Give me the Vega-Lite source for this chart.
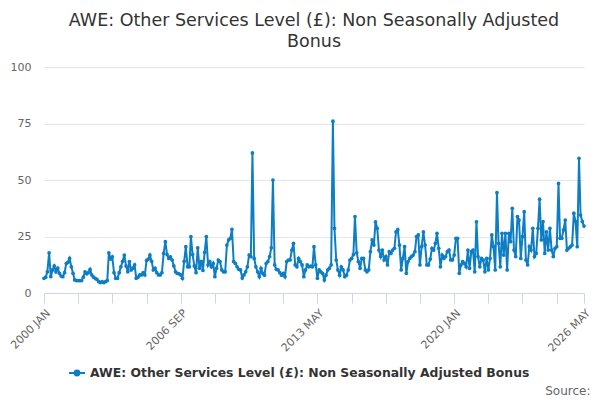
{
  "$schema": "https://vega.github.io/schema/vega-lite/v6.json",
  "width": 540,
  "height": 226,
  "autosize": {"type": "none"},
  "padding": {"left": 44, "top": 67, "right": 16, "bottom": 107},
  "background": "white",
  "title": {
    "text": ["AWE: Other Services Level (£): Non Seasonally Adjusted", "Bonus"],
    "font": "DejaVu Sans",
    "fontSize": 17.5,
    "fontWeight": "normal",
    "color": "#333333",
    "anchor": "middle",
    "lineHeight": 21,
    "offset": 11
  },
  "data": {
    "values": [
      {"date": "2000-01-01", "value": 6.5}, {"date": "2000-02-01", "value": 7}, {"date": "2000-03-01", "value": 9.4}, {"date": "2000-04-01", "value": 17.8}, {"date": "2000-05-01", "value": 7.2}, {"date": "2000-06-01", "value": 10.2}, {"date": "2000-07-01", "value": 12}, {"date": "2000-08-01", "value": 9.4}, {"date": "2000-09-01", "value": 11}, {"date": "2000-10-01", "value": 8.7}, {"date": "2000-11-01", "value": 7.5}, {"date": "2000-12-01", "value": 7.2},
      {"date": "2001-01-01", "value": 9}, {"date": "2001-02-01", "value": 13.1}, {"date": "2001-03-01", "value": 13.5}, {"date": "2001-04-01", "value": 15.3}, {"date": "2001-05-01", "value": 11.6}, {"date": "2001-06-01", "value": 8.7}, {"date": "2001-07-01", "value": 5.8}, {"date": "2001-08-01", "value": 5.5}, {"date": "2001-09-01", "value": 5.5}, {"date": "2001-10-01", "value": 5.5}, {"date": "2001-11-01", "value": 5.5}, {"date": "2001-12-01", "value": 7},
      {"date": "2002-01-01", "value": 9.4}, {"date": "2002-02-01", "value": 8.5}, {"date": "2002-03-01", "value": 9}, {"date": "2002-04-01", "value": 10.5}, {"date": "2002-05-01", "value": 8}, {"date": "2002-06-01", "value": 7}, {"date": "2002-07-01", "value": 6.5}, {"date": "2002-08-01", "value": 6}, {"date": "2002-09-01", "value": 5}, {"date": "2002-10-01", "value": 4.6}, {"date": "2002-11-01", "value": 5}, {"date": "2002-12-01", "value": 4.6},
      {"date": "2003-01-01", "value": 5}, {"date": "2003-02-01", "value": 5.5}, {"date": "2003-03-01", "value": 17.8}, {"date": "2003-04-01", "value": 15}, {"date": "2003-05-01", "value": 16}, {"date": "2003-06-01", "value": 9}, {"date": "2003-07-01", "value": 6.5}, {"date": "2003-08-01", "value": 6.5}, {"date": "2003-09-01", "value": 9}, {"date": "2003-10-01", "value": 11.6}, {"date": "2003-11-01", "value": 14}, {"date": "2003-12-01", "value": 16.8},
      {"date": "2004-01-01", "value": 12}, {"date": "2004-02-01", "value": 9.4}, {"date": "2004-03-01", "value": 13.9}, {"date": "2004-04-01", "value": 10.2}, {"date": "2004-05-01", "value": 11}, {"date": "2004-06-01", "value": 12.4}, {"date": "2004-07-01", "value": 6.5}, {"date": "2004-08-01", "value": 7}, {"date": "2004-09-01", "value": 8}, {"date": "2004-10-01", "value": 8}, {"date": "2004-11-01", "value": 9}, {"date": "2004-12-01", "value": 8},
      {"date": "2005-01-01", "value": 14.4}, {"date": "2005-02-01", "value": 15}, {"date": "2005-03-01", "value": 16.8}, {"date": "2005-04-01", "value": 14}, {"date": "2005-05-01", "value": 10.2}, {"date": "2005-06-01", "value": 11}, {"date": "2005-07-01", "value": 9}, {"date": "2005-08-01", "value": 8}, {"date": "2005-09-01", "value": 8}, {"date": "2005-10-01", "value": 9}, {"date": "2005-11-01", "value": 17.5}, {"date": "2005-12-01", "value": 22.7},
      {"date": "2006-01-01", "value": 17}, {"date": "2006-02-01", "value": 15.3}, {"date": "2006-03-01", "value": 16}, {"date": "2006-04-01", "value": 14.6}, {"date": "2006-05-01", "value": 12}, {"date": "2006-06-01", "value": 9.4}, {"date": "2006-07-01", "value": 8.7}, {"date": "2006-08-01", "value": 8.5}, {"date": "2006-09-01", "value": 8}, {"date": "2006-10-01", "value": 6.5}, {"date": "2006-11-01", "value": 14}, {"date": "2006-12-01", "value": 20.5},
      {"date": "2007-01-01", "value": 11.6}, {"date": "2007-02-01", "value": 11.6}, {"date": "2007-03-01", "value": 25}, {"date": "2007-04-01", "value": 17}, {"date": "2007-05-01", "value": 12}, {"date": "2007-06-01", "value": 9}, {"date": "2007-07-01", "value": 20}, {"date": "2007-08-01", "value": 11}, {"date": "2007-09-01", "value": 14}, {"date": "2007-10-01", "value": 10}, {"date": "2007-11-01", "value": 18}, {"date": "2007-12-01", "value": 25},
      {"date": "2008-01-01", "value": 12.4}, {"date": "2008-02-01", "value": 13.9}, {"date": "2008-03-01", "value": 11.6}, {"date": "2008-04-01", "value": 13.1}, {"date": "2008-05-01", "value": 7.2}, {"date": "2008-06-01", "value": 11}, {"date": "2008-07-01", "value": 14.6}, {"date": "2008-08-01", "value": 13.9}, {"date": "2008-09-01", "value": 10.2}, {"date": "2008-10-01", "value": 9.4}, {"date": "2008-11-01", "value": 9.4}, {"date": "2008-12-01", "value": 21.2},
      {"date": "2009-01-01", "value": 23.5}, {"date": "2009-02-01", "value": 24.2}, {"date": "2009-03-01", "value": 28.2}, {"date": "2009-04-01", "value": 13.9}, {"date": "2009-05-01", "value": 13.1}, {"date": "2009-06-01", "value": 11.6}, {"date": "2009-07-01", "value": 10.5}, {"date": "2009-08-01", "value": 10.2}, {"date": "2009-09-01", "value": 6.6}, {"date": "2009-10-01", "value": 8}, {"date": "2009-11-01", "value": 9.4}, {"date": "2009-12-01", "value": 11.6},
      {"date": "2010-01-01", "value": 16.8}, {"date": "2010-02-01", "value": 16.1}, {"date": "2010-03-01", "value": 62}, {"date": "2010-04-01", "value": 15.3}, {"date": "2010-05-01", "value": 11.6}, {"date": "2010-06-01", "value": 9.4}, {"date": "2010-07-01", "value": 7.2}, {"date": "2010-08-01", "value": 10.9}, {"date": "2010-09-01", "value": 8.7}, {"date": "2010-10-01", "value": 7.9}, {"date": "2010-11-01", "value": 13.1}, {"date": "2010-12-01", "value": 13.9},
      {"date": "2011-01-01", "value": 16.1}, {"date": "2011-02-01", "value": 20}, {"date": "2011-03-01", "value": 50}, {"date": "2011-04-01", "value": 12.4}, {"date": "2011-05-01", "value": 10.5}, {"date": "2011-06-01", "value": 10.2}, {"date": "2011-07-01", "value": 9}, {"date": "2011-08-01", "value": 7.9}, {"date": "2011-09-01", "value": 8.7}, {"date": "2011-10-01", "value": 7.2}, {"date": "2011-11-01", "value": 13.9}, {"date": "2011-12-01", "value": 14.6},
      {"date": "2012-01-01", "value": 14.6}, {"date": "2012-02-01", "value": 19}, {"date": "2012-03-01", "value": 22}, {"date": "2012-04-01", "value": 12.4}, {"date": "2012-05-01", "value": 11.6}, {"date": "2012-06-01", "value": 15.3}, {"date": "2012-07-01", "value": 13.9}, {"date": "2012-08-01", "value": 12.4}, {"date": "2012-09-01", "value": 7.2}, {"date": "2012-10-01", "value": 10.2}, {"date": "2012-11-01", "value": 12.4}, {"date": "2012-12-01", "value": 11.6},
      {"date": "2013-01-01", "value": 11.9}, {"date": "2013-02-01", "value": 11.6}, {"date": "2013-03-01", "value": 20.5}, {"date": "2013-04-01", "value": 12.4}, {"date": "2013-05-01", "value": 6.5}, {"date": "2013-06-01", "value": 10.2}, {"date": "2013-07-01", "value": 9.4}, {"date": "2013-08-01", "value": 8.7}, {"date": "2013-09-01", "value": 5.7}, {"date": "2013-10-01", "value": 7.9}, {"date": "2013-11-01", "value": 10.2}, {"date": "2013-12-01", "value": 11},
      {"date": "2014-01-01", "value": 12.4}, {"date": "2014-02-01", "value": 76}, {"date": "2014-03-01", "value": 28.6}, {"date": "2014-04-01", "value": 14.6}, {"date": "2014-05-01", "value": 10.2}, {"date": "2014-06-01", "value": 7.9}, {"date": "2014-07-01", "value": 11.6}, {"date": "2014-08-01", "value": 10.2}, {"date": "2014-09-01", "value": 7.2}, {"date": "2014-10-01", "value": 7.9}, {"date": "2014-11-01", "value": 10.2}, {"date": "2014-12-01", "value": 14.6},
      {"date": "2015-01-01", "value": 15.3}, {"date": "2015-02-01", "value": 17}, {"date": "2015-03-01", "value": 33.8}, {"date": "2015-04-01", "value": 17.8}, {"date": "2015-05-01", "value": 13.9}, {"date": "2015-06-01", "value": 10.9}, {"date": "2015-07-01", "value": 15.3}, {"date": "2015-08-01", "value": 15.3}, {"date": "2015-09-01", "value": 10.2}, {"date": "2015-10-01", "value": 9.4}, {"date": "2015-11-01", "value": 10.2}, {"date": "2015-12-01", "value": 18.3},
      {"date": "2016-01-01", "value": 23.5}, {"date": "2016-02-01", "value": 21.2}, {"date": "2016-03-01", "value": 31.5}, {"date": "2016-04-01", "value": 28.6}, {"date": "2016-05-01", "value": 19}, {"date": "2016-06-01", "value": 16.1}, {"date": "2016-07-01", "value": 19}, {"date": "2016-08-01", "value": 14.6}, {"date": "2016-09-01", "value": 16.1}, {"date": "2016-10-01", "value": 12.4}, {"date": "2016-11-01", "value": 18.3}, {"date": "2016-12-01", "value": 17.5},
      {"date": "2017-01-01", "value": 19}, {"date": "2017-02-01", "value": 19.8}, {"date": "2017-03-01", "value": 27.1}, {"date": "2017-04-01", "value": 28}, {"date": "2017-05-01", "value": 21.2}, {"date": "2017-06-01", "value": 10.2}, {"date": "2017-07-01", "value": 15.3}, {"date": "2017-08-01", "value": 20.5}, {"date": "2017-09-01", "value": 8.7}, {"date": "2017-10-01", "value": 13.9}, {"date": "2017-11-01", "value": 15.3}, {"date": "2017-12-01", "value": 16.1},
      {"date": "2018-01-01", "value": 16.8}, {"date": "2018-02-01", "value": 18.3}, {"date": "2018-03-01", "value": 25}, {"date": "2018-04-01", "value": 25.7}, {"date": "2018-05-01", "value": 12.4}, {"date": "2018-06-01", "value": 20.5}, {"date": "2018-07-01", "value": 27}, {"date": "2018-08-01", "value": 21.2}, {"date": "2018-09-01", "value": 12.4}, {"date": "2018-10-01", "value": 12.4}, {"date": "2018-11-01", "value": 15}, {"date": "2018-12-01", "value": 19.8},
      {"date": "2019-01-01", "value": 19}, {"date": "2019-02-01", "value": 22}, {"date": "2019-03-01", "value": 26.4}, {"date": "2019-04-01", "value": 19.8}, {"date": "2019-05-01", "value": 11.6}, {"date": "2019-06-01", "value": 16.8}, {"date": "2019-07-01", "value": 15.3}, {"date": "2019-08-01", "value": 16.1}, {"date": "2019-09-01", "value": 18.3}, {"date": "2019-10-01", "value": 19}, {"date": "2019-11-01", "value": 14.6}, {"date": "2019-12-01", "value": 14.6},
      {"date": "2020-01-01", "value": 16.8}, {"date": "2020-02-01", "value": 24.2}, {"date": "2020-03-01", "value": 24.2}, {"date": "2020-04-01", "value": 8.7}, {"date": "2020-05-01", "value": 12.4}, {"date": "2020-06-01", "value": 13.9}, {"date": "2020-07-01", "value": 13.1}, {"date": "2020-08-01", "value": 11.6}, {"date": "2020-09-01", "value": 19}, {"date": "2020-10-01", "value": 10.9}, {"date": "2020-11-01", "value": 18.3}, {"date": "2020-12-01", "value": 19},
      {"date": "2021-01-01", "value": 9.4}, {"date": "2021-02-01", "value": 31.5}, {"date": "2021-03-01", "value": 16.1}, {"date": "2021-04-01", "value": 11.6}, {"date": "2021-05-01", "value": 15.3}, {"date": "2021-06-01", "value": 14.6}, {"date": "2021-07-01", "value": 9.4}, {"date": "2021-08-01", "value": 15.3}, {"date": "2021-09-01", "value": 10.2}, {"date": "2021-10-01", "value": 15.3}, {"date": "2021-11-01", "value": 25.7}, {"date": "2021-12-01", "value": 20.5},
      {"date": "2022-01-01", "value": 10.2}, {"date": "2022-02-01", "value": 44.4}, {"date": "2022-03-01", "value": 22}, {"date": "2022-04-01", "value": 11.6}, {"date": "2022-05-01", "value": 26.4}, {"date": "2022-06-01", "value": 16.8}, {"date": "2022-07-01", "value": 26.4}, {"date": "2022-08-01", "value": 10.2}, {"date": "2022-09-01", "value": 26.4}, {"date": "2022-10-01", "value": 22.7}, {"date": "2022-11-01", "value": 37.5}, {"date": "2022-12-01", "value": 19},
      {"date": "2023-01-01", "value": 16.1}, {"date": "2023-02-01", "value": 33.8}, {"date": "2023-03-01", "value": 32.3}, {"date": "2023-04-01", "value": 15.3}, {"date": "2023-05-01", "value": 24.9}, {"date": "2023-06-01", "value": 36}, {"date": "2023-07-01", "value": 14.6}, {"date": "2023-08-01", "value": 12.4}, {"date": "2023-09-01", "value": 20.5}, {"date": "2023-10-01", "value": 19}, {"date": "2023-11-01", "value": 28.6}, {"date": "2023-12-01", "value": 16.1},
      {"date": "2024-01-01", "value": 17.5}, {"date": "2024-02-01", "value": 28.6}, {"date": "2024-03-01", "value": 41.5}, {"date": "2024-04-01", "value": 23.5}, {"date": "2024-05-01", "value": 31.6}, {"date": "2024-06-01", "value": 17.5}, {"date": "2024-07-01", "value": 27.1}, {"date": "2024-08-01", "value": 19}, {"date": "2024-09-01", "value": 28.6}, {"date": "2024-10-01", "value": 19}, {"date": "2024-11-01", "value": 16.1}, {"date": "2024-12-01", "value": 19.8},
      {"date": "2025-01-01", "value": 20.5}, {"date": "2025-02-01", "value": 48.5}, {"date": "2025-03-01", "value": 24.2}, {"date": "2025-04-01", "value": 24.2}, {"date": "2025-05-01", "value": 27.9}, {"date": "2025-06-01", "value": 32.3}, {"date": "2025-07-01", "value": 19}, {"date": "2025-08-01", "value": 19.8}, {"date": "2025-09-01", "value": 20.5}, {"date": "2025-10-01", "value": 21.2}, {"date": "2025-11-01", "value": 35.3}, {"date": "2025-12-01", "value": 31.6},
      {"date": "2026-01-01", "value": 20.5}, {"date": "2026-02-01", "value": 59.6}, {"date": "2026-03-01", "value": 34.5}, {"date": "2026-04-01", "value": 31.6}, {"date": "2026-05-01", "value": 29.6}
    ]
  },
  "mark": {
    "type": "line",
    "strokeWidth": 2,
    "point": {"filled": true, "size": 14}
  },
  "encoding": {
    "x": {
      "field": "date",
      "type": "temporal",
      "scale": {"type": "utc", "nice": false},
      "axis": {
        "values": [
          {"year": 2000, "month": 1, "utc": true}, {"year": 2001, "month": 9, "utc": true},
          {"year": 2003, "month": 5, "utc": true}, {"year": 2005, "month": 1, "utc": true},
          {"year": 2006, "month": 9, "utc": true}, {"year": 2008, "month": 5, "utc": true},
          {"year": 2010, "month": 1, "utc": true}, {"year": 2011, "month": 9, "utc": true},
          {"year": 2013, "month": 5, "utc": true}, {"year": 2015, "month": 1, "utc": true},
          {"year": 2016, "month": 9, "utc": true}, {"year": 2018, "month": 5, "utc": true},
          {"year": 2020, "month": 1, "utc": true}, {"year": 2021, "month": 9, "utc": true},
          {"year": 2023, "month": 5, "utc": true}, {"year": 2025, "month": 1, "utc": true},
          {"year": 2026, "month": 5, "utc": true}
        ],
        "labelExpr": "((utcyear(datum.value) - 2000) * 12 + utcmonth(datum.value)) % 80 == 0 || ((utcyear(datum.value) - 2000) * 12 + utcmonth(datum.value)) == 316 ? upper(utcFormat(datum.value, '%Y %b')) : ''",
        "labelAngle": -45,
        "labelFont": "DejaVu Sans",
        "labelFontSize": 11,
        "labelColor": "#666666",
        "labelPadding": 4,
        "labelOverlap": false,
        "labelBound": false,
        "labelFlush": false,
        "grid": false,
        "tickSize": 10,
        "tickColor": "#ccd6eb",
        "domainColor": "#ccd6eb",
        "title": "Source:",
        "titleFont": "DejaVu Sans",
        "titleFontSize": 12,
        "titleFontWeight": "normal",
        "titleColor": "#666666",
        "titleAnchor": "end",
        "titleAlign": "right",
        "titleBaseline": "middle",
        "titleX": 546,
        "titleY": 97
      }
    },
    "y": {
      "field": "value",
      "type": "quantitative",
      "scale": {"domain": [0, 100], "nice": false},
      "axis": {
        "values": [0, 25, 50, 75, 100],
        "title": null,
        "domain": false,
        "ticks": false,
        "labelFont": "DejaVu Sans",
        "labelFontSize": 11,
        "labelColor": "#666666",
        "labelPadding": 13,
        "gridColor": "#e6e6e6"
      }
    },
    "color": {
      "datum": "AWE: Other Services Level (£): Non Seasonally Adjusted Bonus",
      "type": "nominal",
      "scale": {"range": ["#0d7ec4"]},
      "legend": {
        "title": null,
        "orient": "none",
        "legendX": 24,
        "legendY": 297,
        "symbolType": "M-1,0H1M-0.3,0A0.3,0.3 0 1,0 0.3,0A0.3,0.3 0 1,0 -0.3,0Z",
        "symbolSize": 256,
        "symbolStrokeWidth": 2,
        "labelFont": "DejaVu Sans",
        "labelFontSize": 12.4,
        "labelFontWeight": "bold",
        "labelColor": "#333333",
        "labelLimit": 600
      }
    }
  },
  "config": {
    "view": {"stroke": null}
  }
}
